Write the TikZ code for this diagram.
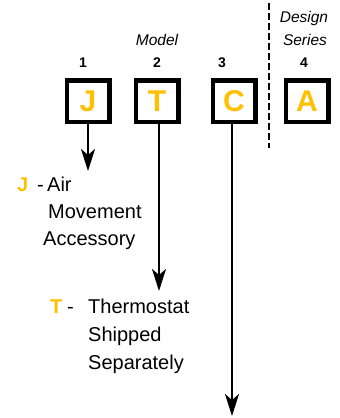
\documentclass[tikz,border=0pt]{standalone}
\usepackage{fontspec}
\setmainfont{Liberation Sans}
\usetikzlibrary{arrows.meta}
\definecolor{gold}{RGB}{255,192,0}
\begin{document}
\begin{tikzpicture}[x=1pt,y=-1pt,
  codebox/.style={draw=black,line width=4.5pt,fill=white,minimum width=42.5pt,minimum height=41.5pt,inner sep=0pt,
    text=gold,font=\fontsize{30}{30}\selectfont\bfseries},
  numlabel/.style={anchor=base,inner sep=0pt,font=\fontsize{14}{14}\selectfont\bfseries},
  headlabel/.style={anchor=base,inner sep=0pt,font=\fontsize{15.5}{16}\selectfont\itshape},
  bodytext/.style={anchor=base west,inner sep=0pt,font=\fontsize{20}{24}\selectfont},
  keyletter/.style={anchor=base west,inner sep=0pt,text=gold,font=\fontsize{20}{24}\selectfont\bfseries},
  pointer/.style={line width=2.5pt,-{Stealth[length=22pt,width=14pt,inset=6pt]}},
  divider/.style={line width=2.7pt,dash pattern=on 6.5pt off 3.5pt}]
\useasboundingbox (0,0) rectangle (340,418);
% boxes
\node[codebox] (boxJ) at (88,101) {J};
\node[codebox] (boxT) at (157,101) {T};
\node[codebox] (boxC) at (234,101) {C};
\node[codebox] (boxA) at (307,101) {A};
% position numbers
\node[numlabel] (n1) at (83,67) {1};
\node[numlabel] (n2) at (157,67) {2};
\node[numlabel] (n3) at (222,67) {3};
\node[numlabel] (n4) at (304,67) {4};
% headings
\node[headlabel] (model) at (157,45) {Model};
\node[headlabel] (design) at (304,22) {Design};
\node[headlabel] (series) at (305,45) {Series};
% divider
\coordinate (divtop) at (269,3);
\coordinate (divbot) at (269,148);
\draw[divider] (divtop) -- (divbot);
% arrows
\coordinate (tipJ) at (88,171);
\coordinate (tipT) at (159,291);
\coordinate (tipC) at (232,416);
\draw[pointer] (boxJ.south) -- (tipJ);
\draw[pointer] (boxT.south -| tipT) -- (tipT);
\draw[pointer] (boxC.south -| tipC) -- (tipC);
% J description
\node[keyletter] (kJ) at (17,191) {J};
\node[bodytext] (dJ) at (37,191) {-};
\node[bodytext] (air) at (47,191) {Air};
\node[bodytext] (movement) at (48,218) {Movement};
\node[bodytext] (accessory) at (43,245) {Accessory};
% T description
\node[keyletter] (kT) at (50,313) {T};
\node[bodytext] (dT) at (67,313) {-};
\node[bodytext] (thermo) at (88,313) {Thermostat};
\node[bodytext] (shipped) at (88,341) {Shipped};
\node[bodytext] (separately) at (88,369) {Separately};
\end{tikzpicture}
\end{document}
